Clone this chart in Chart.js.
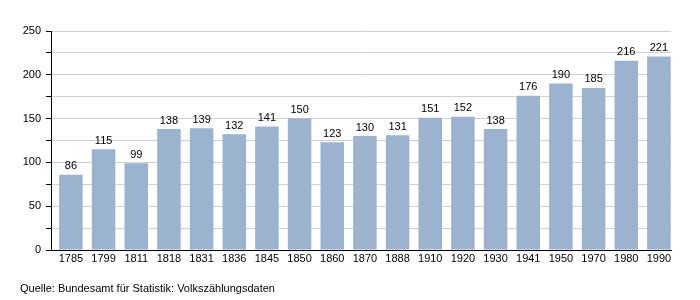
<!DOCTYPE html>
<html>
<head>
<meta charset="utf-8">
<script src="https://cdn.jsdelivr.net/npm/chart.js@4/dist/chart.umd.min.js"></script>
<style>
  html, body { margin: 0; padding: 0; background: #fff; }
</style>
</head>
<body>
<canvas id="chartPop" width="700" height="300"></canvas>
<script>
  const years = ["1785", "1799", "1811", "1818", "1831", "1836", "1845", "1850", "1860", "1870",
    "1888", "1910", "1920", "1930", "1941", "1950", "1970", "1980", "1990"];
  const population = [86, 115, 99, 138, 139, 132, 141, 150, 123, 130,
    131, 151, 152, 138, 176, 190, 185, 216, 221];
  const sourceText = "Quelle: Bundesamt für Statistik: Volkszählungsdaten";

  const FONT = "'Liberation Sans', Arial, sans-serif";

  // value labels above bars + source line
  const labelsPlugin = {
    id: "barLabels",
    afterDatasetsDraw(chart) {
      const ctx = chart.ctx;
      const meta = chart.getDatasetMeta(0);
      ctx.save();
      ctx.font = "11px " + FONT;
      ctx.fillStyle = "#000";
      ctx.textAlign = "center";
      ctx.textBaseline = "bottom";
      meta.data.forEach((bar, i) => {
        ctx.fillText(String(population[i]), bar.x, bar.y - 3);
      });
      ctx.textAlign = "left";
      ctx.textBaseline = "middle";
      ctx.fillText(sourceText, 20, 289);
      ctx.restore();
    },
  };

  // x as index so the first bar sits a bit off the y axis, last bar flush with the end
  const points = population.map((v, i) => ({ x: i, y: v }));

  new Chart(document.getElementById("chartPop"), {
    type: "bar",
    data: {
      datasets: [{
        data: points,
        backgroundColor: "#9bb3ce",
        borderWidth: 0,
        barPercentage: 0.72,
        categoryPercentage: 1.0,
      }],
    },
    options: {
      responsive: false,
      animation: false,
      layout: { padding: { left: 0, right: 29, top: 31, bottom: 0 } },
      plugins: {
        legend: { display: false },
        tooltip: { enabled: false },
      },
      scales: {
        x: {
          type: "linear",
          offset: false,
          min: -0.61,
          max: 18.37,
          grid: { display: false, drawTicks: false },
          border: { color: "#000", width: 1 },
          ticks: {
            color: "#000",
            font: { family: FONT, size: 11 },
            padding: 2,
            maxRotation: 0,
            autoSkip: false,
            callback: (v) => (Number.isInteger(v) ? years[v] : ""),
          },
          afterBuildTicks(scale) {
            scale.ticks = years.map((_, i) => ({ value: i }));
          },
          afterFit(scale) { scale.height = 50; },
        },
        y: {
          min: 0,
          max: 250,
          grid: {
            color: "#d0d0d0",
            tickLength: 5,
            tickColor: "#000",
          },
          border: { color: "#000", width: 1 },
          ticks: {
            stepSize: 25,
            color: "#000",
            padding: 5,
            font: { family: FONT, size: 11 },
            callback: (v) => (v % 50 === 0 ? v : ""),
          },
          afterFit(scale) { scale.width = 51; },
        },
      },
    },
    plugins: [labelsPlugin],
  });
</script>
</body>
</html>
